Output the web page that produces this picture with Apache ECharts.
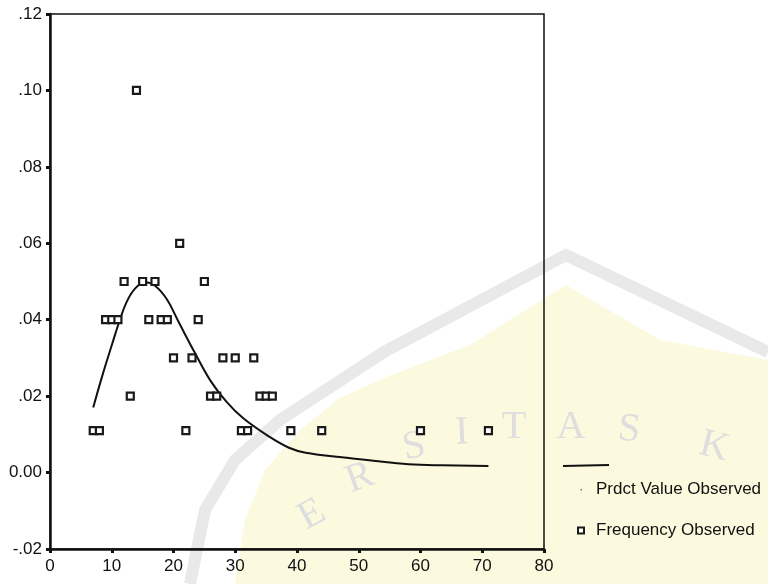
<!DOCTYPE html>
<html>
<head>
<meta charset="utf-8">
<script src="https://cdn.jsdelivr.net/npm/echarts@6/dist/echarts.min.js"></script>
<style>
html,body{margin:0;padding:0;background:#fff;}
#chart{width:768px;height:584px;}
</style>
</head>
<body>
<div id="chart"></div>
<script>
// ---- data ----
var freqX = [7, 8, 9, 10, 11, 12, 13, 14, 15, 16, 17, 18, 19, 20, 21, 22, 23, 24, 25, 26, 27, 28, 30, 31, 32, 33, 34, 35, 36, 39, 44, 60, 71];
var freqY = [0.011, 0.011, 0.04, 0.04, 0.04, 0.05, 0.02, 0.10, 0.05, 0.04, 0.05, 0.04, 0.04, 0.03, 0.06, 0.011, 0.03, 0.04, 0.05, 0.02, 0.02, 0.03, 0.03, 0.011, 0.011, 0.03, 0.02, 0.02, 0.02, 0.011, 0.011, 0.011, 0.011];
var predX = [7, 8.5, 10, 11.2, 12.4, 13.8, 15.4, 17, 18.9, 20.9, 23.5, 26, 28.6, 31.3, 35.5, 38.7, 41.4, 47.3, 52.7, 58.1, 63.5, 71];
var predY = [0.017, 0.0255, 0.0333, 0.0394, 0.0446, 0.0482, 0.0498, 0.0489, 0.0454, 0.0392, 0.0312, 0.024, 0.0185, 0.0142, 0.0094, 0.0065, 0.0052, 0.004, 0.003, 0.0022, 0.0019, 0.0017];
var xTicks = [0, 10, 20, 30, 40, 50, 60, 70, 80];
var yTickLabels = ['-.02', '0.00', '.02', '.04', '.06', '.08', '.10', '.12'];
var seriesNames = ['Prdct Value Observed', 'Frequency Observed'];
var watermarkLetters = ['E', 'R', 'S', 'I', 'T', 'A', 'S', 'K'];

var FONT = 'Liberation Sans, Arial, sans-serif';
var freqData = freqX.map(function (x, i) { return [x, freqY[i]]; });
var predData = predX.map(function (x, i) { return [x, predY[i]]; });

var letterPos = [[312, 515, 0.5], [360, 478, 0.35], [414, 447, 0.2], [462, 433, 0.05], [514, 427, 0], [571, 427, 0], [629, 430, -0.1], [714, 447, -0.25]];
var graphics = [
  { type: 'polygon', z: -10, silent: true,
    shape: { points: [[235,584],[245,520],[265,470],[300,430],[340,398],[384,378],[470,345],[566,285],[660,340],[768,360],[768,584]] },
    style: { fill: '#fbf8da', opacity: 0.9 } },
  { type: 'polyline', z: -9, silent: true,
    shape: { points: [[190,584],[205,510],[235,460],[280,420],[384,352],[566,255],[768,352]] },
    style: { stroke: '#e9e9e9', lineWidth: 12, fill: null } },
  { type: 'line', z: 10, silent: true,
    shape: { x1: 563, y1: 466, x2: 609, y2: 465 },
    style: { stroke: '#111', lineWidth: 2 } }
];
watermarkLetters.forEach(function (ch, i) {
  graphics.push({ type: 'text', z: -8, silent: true,
    x: letterPos[i][0], y: letterPos[i][1], rotation: letterPos[i][2],
    style: { text: ch, fill: '#dedede', font: '40px "Liberation Serif", serif', align: 'center', verticalAlign: 'middle' } });
});

var chart = echarts.init(document.getElementById('chart'), null, { renderer: 'canvas' });
chart.setOption({
  animation: false,
  backgroundColor: '#ffffff',
  grid: { left: 50, right: 224, top: 14, bottom: 35, show: true, borderColor: '#111', borderWidth: 1.5, backgroundColor: 'transparent' },
  xAxis: {
    type: 'value', min: xTicks[0], max: xTicks[xTicks.length - 1], interval: 10,
    axisLine: { show: true, onZero: false, lineStyle: { color: '#111', width: 2.5 } },
    axisTick: { show: true, length: 4, lineStyle: { color: '#111', width: 3 } },
    splitLine: { show: false },
    axisLabel: { fontSize: 17, color: '#111', margin: 9, fontFamily: FONT }
  },
  yAxis: {
    type: 'value', min: -0.02, max: 0.12, interval: 0.02,
    axisLine: { show: true, onZero: false, lineStyle: { color: '#111', width: 2.5 } },
    axisTick: { show: true, length: 4, lineStyle: { color: '#111', width: 3 } },
    splitLine: { show: false },
    axisLabel: {
      fontSize: 17, color: '#111', margin: 8, fontFamily: FONT,
      formatter: function (v) {
        var idx = Math.round((v + 0.02) / 0.02);
        return yTickLabels[idx] !== undefined ? yTickLabels[idx] : '';
      }
    }
  },
  legend: {
    orient: 'vertical', left: 565, top: 476, itemWidth: 20, itemHeight: 8, itemGap: 24,
    textStyle: { fontSize: 17, color: '#111', fontFamily: FONT },
    data: [
      { name: seriesNames[0], icon: 'path://M0 0M20 8M9.5 3.5L11 3.5L11 5L9.5 5Z', itemStyle: { color: '#777' } },
      { name: seriesNames[1], icon: 'path://M0 0M20 8M7 1L13 1L13 7L7 7Z', itemStyle: { color: '#fff', borderColor: '#1a1a1a', borderWidth: 2 } }
    ]
  },
  graphic: graphics,
  series: [
    { name: seriesNames[0], type: 'line', data: predData, smooth: 0.4, showSymbol: false, symbol: 'none',
      lineStyle: { color: '#111', width: 2 }, itemStyle: { color: '#111' }, z: 3 },
    { name: seriesNames[1], type: 'scatter', data: freqData, symbol: 'rect', symbolSize: 7,
      itemStyle: { color: '#fff', borderColor: '#1a1a1a', borderWidth: 2.2, opacity: 1 }, z: 4 }
  ]
});
</script>
</body>
</html>
